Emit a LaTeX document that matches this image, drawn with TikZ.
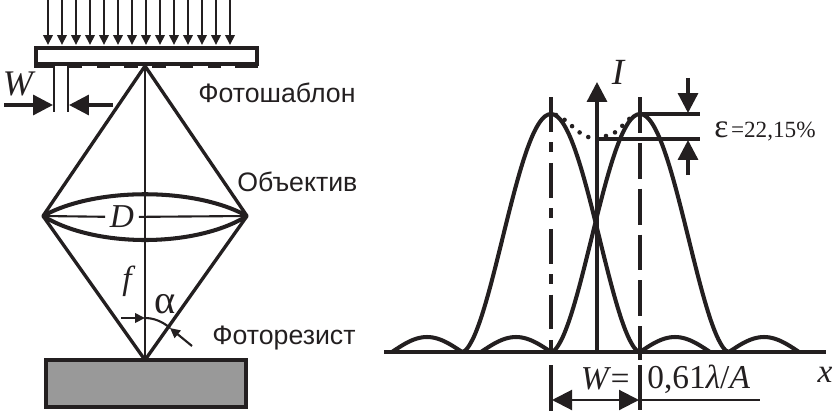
\documentclass[tikz,border=0pt]{standalone}
\usepackage{fontspec}
\setmainfont{Liberation Sans}
\newfontfamily\serf{Liberation Serif}
\usetikzlibrary{arrows.meta}
\definecolor{ink}{HTML}{231F20}
\begin{document}
\begin{tikzpicture}[x=0.02cm,y=-0.02cm,
  thn/.style={ink, line width=1.2pt},
  thk/.style={ink, line width=1.9pt},
  crv/.style={ink, line width=2.3pt},
  big/.style={-{Triangle[length=0.4cm,width=0.4cm]}},
  sml/.style={-{Triangle[length=0.2cm,width=0.19cm]}},
  lbl/.style={inner sep=0pt, text=ink, font=\fontsize{15.2}{18}\selectfont},
  mth/.style={inner sep=0pt, text=ink, font=\fontsize{19}{20}\serf\itshape}]
\useasboundingbox (0,0) rectangle (837,412);
% light from above
\foreach \i in {0,...,13}{
\coordinate (r\i) at ({48+14*\i},0);
\coordinate (s\i) at ({48+14*\i},45);
\draw[thn, sml] (r\i) -- (s\i);
}
% photomask
\draw[ink, line width=2pt] (36,48) rectangle (257,64);
\foreach \a/\b in {34/53, 68/82, 97/110, 124/138, 152/166, 180/193, 208/221, 235/258}{
\fill[ink] (\a,63) rectangle (\b,68);
}
% width of the slit
\coordinate (wa) at (54,66);
\coordinate (wb) at (54,112);
\coordinate (wc) at (68,66);
\coordinate (wd) at (68,112);
\coordinate (we) at (4,105);
\coordinate (wf) at (53,105);
\coordinate (wg) at (113,105);
\coordinate (wh) at (69,105);
\draw[thn] (wa) -- (wb);
\draw[thn] (wc) -- (wd);
\draw[thk, big] (we) -- (wf);
\draw[thk, big] (wg) -- (wh);
\node[mth, font=\fontsize{20.5}{22}\serf\itshape] (lw) at (18,84) {W};
% objective
\coordinate (top) at (145,66);
\coordinate (lft) at (43,216);
\coordinate (rgt) at (247,216);
\coordinate (bot) at (145,360);
\draw[thk, line join=round] (top) -- (lft) -- (bot) -- (rgt) -- cycle;
\draw[thn] (top) -- (bot);
\draw[crv] (lft) .. controls (95,187) and (195,187) .. (rgt);
\draw[crv] (lft) .. controls (95,248) and (195,248) .. (rgt);
\node[mth, fill=white, inner xsep=2.5pt, inner ysep=1pt] (ld) at (122,217) {D};
\draw[thn] (lft) -- (ld);
\draw[thn] (ld) -- (rgt);
\node[mth] (lf) at (127,281) {f};
\node[mth, font=\fontsize{23}{24}\serf] (la) at (165,304) {α};
% aperture angle
\coordinate (aa) at (121,318);
\coordinate (ab) at (145,318);
\coordinate (ac) at (192,346);
\coordinate (ad) at (170,328);
\draw[thn] (ab) .. controls (153,318) and (162,321) .. (ad);
\draw[thn, sml] (aa) -- (ab);
\draw[thn, sml] (ac) -- (ad);
% wafer
\draw[ink, line width=2pt, fill=black!40] (46,360) rectangle (246,407);
\node[lbl, anchor=west] (t1) at (198,93) {Фотошаблон};
\node[lbl, anchor=west] (t2) at (237,182) {Объектив};
\node[lbl, anchor=west] (t3) at (212,338) {Фоторезист};
% axes
\coordinate (x0) at (384,352);
\coordinate (x1) at (826,352);
\coordinate (y0) at (597,352);
\coordinate (y1) at (597,82);
\draw[thk] (x0) -- (x1);
\draw[thk, big] (y0) -- (y1);
\node[mth, font=\fontsize{21}{22}\serf\itshape] (li) at (618,72) {I};
\node[mth] (lx) at (825,375) {x};
% two intensity peaks
\foreach \p in {551,640}{
\draw[crv, line join=round, domain=-89:89, samples=61, smooth] plot ({\p+\x},{352-238*pow(max(abs(cos(90*\x/89)),0.001),1.75)});
\draw[crv, domain=0:70, samples=25, smooth] plot ({\p+89+\x},{352-15*sin(180*\x/70)});
\draw[crv, domain=0:70, samples=25, smooth] plot ({\p-89-\x},{352-15*sin(180*\x/70)});
}
\draw[ink, line width=2.6pt, dash pattern=on 0pt off 5.6pt, line cap=round] (556,115) .. controls (570,120) and (578,137) .. (593,138);
\draw[ink, line width=2.6pt, dash pattern=on 0pt off 5.6pt, line cap=round] (606,136) .. controls (616,136) and (624,122) .. (634,115);
% peak positions
\coordinate (p1) at (551,97);
\coordinate (p2) at (551,352);
\coordinate (p3) at (640,97);
\coordinate (p4) at (640,360);
\draw[thk, dash pattern=on 19.8pt off 6pt on 5.7pt off 6pt] (p1) -- (p2);
\draw[thk, dash pattern=on 20.4pt off 5.7pt] (p3) -- (p4);
\coordinate (q1) at (551,365);
\coordinate (q2) at (551,411);
\coordinate (q3) at (640,365);
\coordinate (q4) at (640,410);
\draw[thk] (q1) -- (q2);
\draw[thk] (q3) -- (q4);
% resolution
\coordinate (w1) at (552,400);
\coordinate (w2) at (639,400);
\coordinate (w3) at (760,400);
\draw[thn, {Triangle[length=0.4cm,width=0.4cm]}-{Triangle[length=0.4cm,width=0.4cm]}] (w1) -- (w2);
\draw[thn] (w2) -- (w3);
\node[mth] (lr) at (606,379) {W=};
\node[mth, font=\fontsize{19}{24}\serf, anchor=west] (lv) at (647,379) {0,61\textit{λ}/\textit{A}};
% contrast
\coordinate (c1) at (640,114);
\coordinate (c2) at (700,114);
\coordinate (c3) at (597,139);
\coordinate (c4) at (700,139);
\coordinate (c5) at (688,78);
\coordinate (c6) at (688,113);
\coordinate (c7) at (688,175);
\coordinate (c8) at (688,140);
\draw[thk] (c1) -- (c2);
\draw[thk] (c3) -- (c4);
\draw[thk, big] (c5) -- (c6);
\draw[thk, big] (c7) -- (c8);
\node[mth, font=\fontsize{13.2}{16}\serf, anchor=west] (le) at (714,131) {{\fontsize{19}{20}\selectfont ε}\hspace{1.5pt}=22,15\%};
\end{tikzpicture}
\end{document}
